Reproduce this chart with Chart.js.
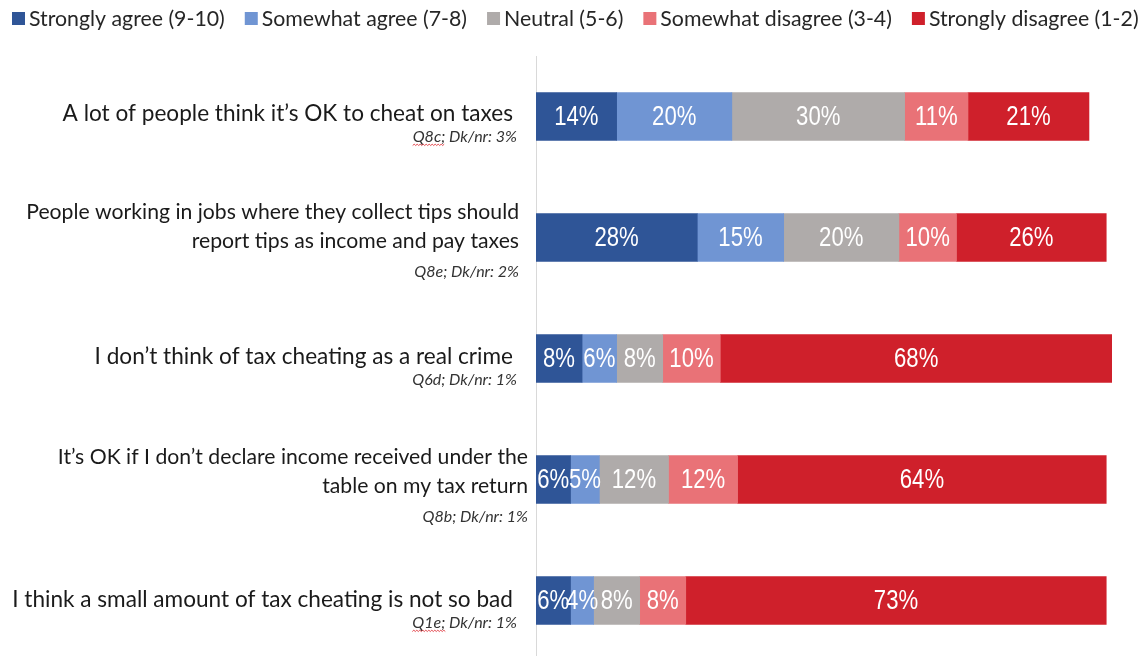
<!DOCTYPE html>
<html>
<head>
<meta charset="utf-8">
<title>Attitudes toward tax cheating</title>
<script src="https://cdn.jsdelivr.net/npm/chart.js@4.4.1/dist/chart.umd.min.js"></script>
<style>
  html, body { margin: 0; padding: 0; background: #fff; overflow: hidden; }
  /* plot runs a little past the bottom edge so the last bar sits low */
  #wrap { width: 1141px; height: 661px; position: relative; }
</style>
</head>
<body>
<div id="wrap"><canvas id="attitudes"></canvas></div>
<script>
// statements (wrapped the way they are shown) and the question / don't-know notes
const statements = [
  ["A lot of people think it’s OK to cheat on taxes"],
  ["People working in jobs where they collect tips should", "report tips as income and pay taxes"],
  ["I don’t think of tax cheating as a real crime"],
  ["It’s OK if I don’t declare income received under the", "table on my tax return"],
  ["I think a small amount of tax cheating is not so bad"]
];
const notes = ["Q8c; Dk/nr: 3%", "Q8e; Dk/nr: 2%", "Q6d; Dk/nr: 1%", "Q8b; Dk/nr: 1%", "Q1e; Dk/nr: 1%"];

const seriesNames = [
  "Strongly agree (9-10)",
  "Somewhat agree (7-8)",
  "Neutral (5-6)",
  "Somewhat disagree (3-4)",
  "Strongly disagree (1-2)"
];
const stronglyAgree    = [14, 28, 8, 6, 6];
const somewhatAgree    = [20, 15, 6, 5, 4];
const neutral          = [30, 20, 8, 12, 8];
const somewhatDisagree = [11, 10, 10, 12, 8];
const stronglyDisagree = [21, 26, 68, 64, 73];

const seriesColors = ["#2F5597", "#7095D3", "#AFABAA", "#E97277", "#CF202B"];

const LABEL_FONT = "Lato, 'Noto Sans', sans-serif";
const VALUE_FONT = "'Liberation Sans', Arial, sans-serif";

// per-row text layout: right edges, font size (the wrapped rows run a touch smaller)
const textRight = [513, 519, 513, 528, 513];
const noteRight = [517, 519, 517, 528, 517];
const textSize  = [22.6, 21.2, 22.6, 21.2, 22.6];
const rowShift  = [-1, -3, 0, 0, 1];
// notes whose question code carries the red spell-check squiggle
const squiggled = [true, false, false, false, true];

function drawSquiggle(ctx, x0, x1, y) {
  ctx.save();
  ctx.strokeStyle = "#E0383E";
  ctx.lineWidth = 0.9;
  ctx.beginPath();
  ctx.moveTo(x0, y);
  let up = true;
  for (let x = x0 + 1.5; x <= x1; x += 1.5) {
    ctx.lineTo(x, up ? y - 1.3 : y);
    up = !up;
  }
  ctx.stroke();
  ctx.restore();
}

// legend row across the top: small square swatch, tight gap, then the name
const topLegend = {
  id: "topLegend",
  afterDraw(chart) {
    const { ctx } = chart;
    ctx.save();
    ctx.font = "21.3px " + LABEL_FONT;
    ctx.textBaseline = "middle";
    ctx.textAlign = "left";
    let x = 12;
    seriesNames.forEach((name, k) => {
      ctx.fillStyle = seriesColors[k];
      ctx.fillRect(x, 12, 13, 13);
      ctx.fillStyle = "#262626";
      ctx.fillText(name, x + 17, 19);
      x += 17 + ctx.measureText(name).width + 20;
    });
    ctx.restore();
  }
};

const statementLabels = {
  id: "statementLabels",
  afterDraw(chart) {
    const { ctx } = chart;
    const yScale = chart.scales.y;
    ctx.save();
    ctx.textAlign = "right";
    ctx.textBaseline = "middle";
    statements.forEach((lines, i) => {
      const cy = yScale.getPixelForValue(i) + rowShift[i];
      const two = lines.length > 1;
      const lineYs = two ? [cy - 22, cy + 7] : [cy - 2];
      ctx.fillStyle = "#1A1A1A";
      ctx.font = textSize[i] + "px " + LABEL_FONT;
      lines.forEach((ln, k) => ctx.fillText(ln, textRight[i], lineYs[k]));

      const ny = two ? cy + 37 : cy + 21;
      ctx.fillStyle = "#333333";
      ctx.font = "italic 16px " + LABEL_FONT;
      ctx.fillText(notes[i], noteRight[i], ny);
      if (squiggled[i]) {
        const full = ctx.measureText(notes[i]).width;
        const code = ctx.measureText(notes[i].split(";")[0] + ";").width;
        const x0 = noteRight[i] - full;
        drawSquiggle(ctx, x0, x0 + code, ny + 9);
      }
    });
    ctx.restore();
  }
};

// white percentage in the middle of each segment, in a condensed face
const barValues = {
  id: "barValues",
  afterDatasetsDraw(chart) {
    const { ctx } = chart;
    const squeeze = 0.82;
    ctx.save();
    ctx.fillStyle = "#FFFFFF";
    ctx.font = "27px " + VALUE_FONT;
    ctx.textAlign = "center";
    ctx.textBaseline = "middle";
    chart.data.datasets.forEach((ds, d) => {
      chart.getDatasetMeta(d).data.forEach((bar, i) => {
        const p = bar.getProps(["x", "y", "base"], true);
        const cx = (p.x + p.base) / 2;
        ctx.save();
        ctx.translate(cx, p.y + 1);
        ctx.scale(squeeze, 1);
        ctx.fillText(ds.data[i] + "%", 0, 0);
        ctx.restore();
      });
    });
    ctx.restore();
  }
};

const allSeries = [stronglyAgree, somewhatAgree, neutral, somewhatDisagree, stronglyDisagree];

new Chart(document.getElementById("attitudes"), {
  type: "bar",
  data: {
    labels: statements.map(s => s.join(" ")),
    datasets: allSeries.map((vals, k) => ({
      label: seriesNames[k],
      data: vals,
      backgroundColor: seriesColors[k],
      borderWidth: 0,
      barThickness: 48
    }))
  },
  options: {
    indexAxis: "y",
    responsive: true,
    maintainAspectRatio: false,
    animation: false,
    layout: { padding: { top: 56, right: 29, bottom: 0, left: 0 } },
    scales: {
      x: { stacked: true, min: 0, max: 100, display: false },
      y: {
        stacked: true,
        grid: { display: false },
        border: { display: true, color: "#D9D9D9", width: 1 },
        ticks: { display: false },
        afterFit(scale) { scale.width = 536; }
      }
    },
    plugins: {
      legend: { display: false },
      tooltip: { enabled: false }
    }
  },
  plugins: [topLegend, statementLabels, barValues]
});
</script>
</body>
</html>
